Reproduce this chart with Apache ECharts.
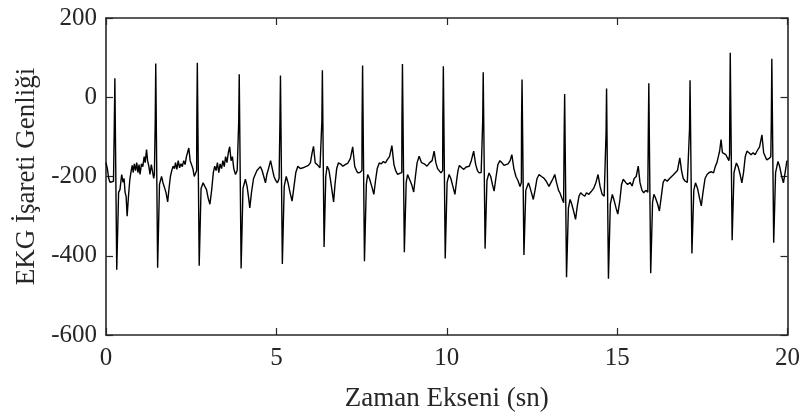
<!DOCTYPE html>
<html>
<head>
<meta charset="utf-8">
<script src="https://cdn.jsdelivr.net/npm/echarts@6/dist/echarts.min.js"></script>
<style>
html,body{margin:0;padding:0;background:#fff;}
#chart{width:803px;height:417px;}
</style>
</head>
<body>
<div id="chart"></div>
<script>
// ECG samples: time (s) and amplitude
const timeSec = [
0.00,0.04,0.08,0.12,0.17,0.22,0.245,0.26,0.315,0.37,0.41,0.46,0.50,0.53,0.56,0.59,0.62,0.66,0.70,0.74,0.77,0.80,0.83,0.87,0.90,0.94,0.97,1.00,1.04,1.08,1.12,1.15,1.19,1.22,1.26,1.29,1.33,1.37,1.40,1.42,
1.445,1.46,1.515,1.57,1.63,1.67,1.72,1.76,1.81,1.85,1.89,1.93,1.97,2.01,2.04,2.08,2.12,2.16,2.20,2.24,2.28,2.32,2.36,2.40,2.43,2.47,2.51,2.55,2.59,2.63,2.66,
2.665,2.68,2.735,2.79,2.85,2.90,2.95,3.00,3.05,3.10,3.15,3.19,3.23,3.27,3.31,3.35,3.39,3.43,3.47,3.51,3.55,3.59,3.63,3.67,3.71,3.75,3.80,3.85,3.89,
3.895,3.91,3.965,4.02,4.09,4.14,4.18,4.22,4.27,4.33,4.38,4.43,4.48,4.53,4.58,4.63,4.68,4.72,4.77,4.83,4.88,4.93,4.98,5.03,5.08,
5.105,5.12,5.175,5.23,5.29,5.34,5.40,5.46,5.51,5.57,5.63,5.70,5.78,5.86,5.94,6.00,6.05,6.09,6.14,6.20,6.28,6.33,
6.335,6.35,6.40,6.45,6.49,6.54,6.59,6.64,6.68,6.72,6.77,6.82,6.88,6.95,7.02,7.10,7.17,7.24,7.30,7.35,7.39,7.45,7.51,
7.515,7.53,7.585,7.64,7.68,7.73,7.80,7.86,7.91,7.96,8.02,8.08,8.14,8.20,8.25,8.32,8.39,8.45,8.50,8.56,8.62,8.68,
8.685,8.70,8.755,8.81,8.85,8.90,8.97,9.03,9.08,9.13,9.19,9.26,9.34,9.42,9.50,9.57,9.63,9.68,9.73,9.78,9.83,9.88,
9.885,9.90,9.955,10.01,10.07,10.12,10.18,10.24,10.29,10.33,10.37,10.44,10.50,10.57,10.62,10.66,10.72,10.79,10.85,10.90,10.95,11.01,11.05,
11.055,11.07,11.125,11.18,11.24,11.29,11.34,11.39,11.44,11.50,11.56,11.62,11.68,11.73,11.80,11.86,11.91,11.97,12.03,12.09,12.15,12.19,
12.195,12.21,12.265,12.32,12.40,12.45,12.50,12.54,12.59,12.65,12.71,12.78,12.85,12.92,13.00,13.06,13.12,13.17,13.22,13.28,13.32,13.38,13.43,
13.445,13.46,13.515,13.57,13.62,13.67,13.73,13.78,13.83,13.88,13.93,13.99,14.05,14.10,14.17,14.24,14.31,14.38,14.44,14.50,14.56,14.62,14.67,
14.675,14.69,14.745,14.80,14.86,14.91,14.97,15.02,15.08,15.13,15.18,15.25,15.31,15.38,15.44,15.50,15.56,15.62,15.67,15.73,15.78,15.84,15.90,
15.915,15.93,15.985,16.04,16.08,16.13,16.19,16.24,16.29,16.35,16.40,16.47,16.54,16.60,16.66,16.71,16.77,16.84,16.89,16.94,17.00,17.06,17.11,
17.125,17.14,17.195,17.25,17.30,17.36,17.42,17.47,17.52,17.58,17.64,17.70,17.77,17.83,17.88,17.93,17.97,18.01,18.05,18.09,18.14,18.19,18.24,18.28,18.30,
18.305,18.32,18.375,18.43,18.50,18.55,18.61,18.66,18.71,18.76,18.81,18.87,18.93,18.99,19.05,19.11,19.18,19.25,19.30,19.35,19.39,19.45,19.51,
19.525,19.54,19.595,19.65,19.72,19.77,19.83,19.88,19.93,19.98,20.00
];
const amplitude = [
-165,-180,-205,-215,-212,-212,-60,48,-435,-240,-233,-195,-215,-205,-240,-250,-300,-250,-207,-185,-172,-190,-168,-185,-165,-190,-170,-195,-168,-175,-150,-165,-132,-160,-175,-195,-170,-172,-205,-195,
-60,85,-430,-220,-200,-215,-216,-240,-264,-230,-200,-185,-174,-180,-165,-182,-160,-178,-168,-175,-160,-170,-150,-155,-128,-160,-170,-180,-200,-195,-185,
-60,87,-425,-230,-216,-225,-233,-255,-270,-235,-190,-174,-185,-165,-190,-168,-180,-160,-175,-150,-165,-140,-125,-160,-150,-180,-195,-185,-190,
-60,58,-432,-230,-207,-225,-250,-279,-240,-205,-195,-185,-190,-175,-185,-200,-216,-195,-180,-160,-180,-200,-210,-216,-205,
-60,55,-421,-225,-200,-215,-240,-262,-230,-190,-174,-180,-178,-175,-172,-165,-140,-124,-166,-170,-178,-180,
-60,68,-378,-200,-174,-183,-210,-240,-264,-220,-180,-166,-168,-174,-170,-166,-155,-125,-175,-185,-191,-190,-185,
-60,80,-414,-220,-195,-205,-225,-245,-210,-180,-166,-168,-162,-166,-158,-150,-122,-170,-185,-195,-192,-190,
-60,84,-391,-215,-195,-200,-220,-239,-200,-165,-149,-165,-168,-174,-165,-160,-136,-165,-180,-182,-191,-185,
-60,78,-407,-215,-195,-205,-225,-245,-210,-185,-172,-178,-182,-176,-172,-174,-160,-136,-170,-185,-191,-190,-195,
-60,63,-382,-210,-191,-200,-220,-237,-205,-170,-160,-165,-172,-174,-168,-160,-145,-180,-200,-210,-225,-215,
-60,45,-398,-235,-216,-230,-245,-258,-235,-205,-195,-200,-204,-212,-225,-215,-205,-195,-215,-235,-241,-255,-266,
-100,8,-454,-280,-258,-270,-290,-308,-275,-250,-241,-246,-250,-241,-245,-238,-230,-215,-195,-225,-245,-250,-255,
-90,22,-458,-270,-245,-260,-280,-295,-260,-220,-207,-215,-220,-215,-224,-205,-200,-174,-215,-235,-241,-235,-240,
-90,35,-444,-265,-245,-255,-270,-287,-255,-215,-207,-212,-205,-200,-195,-199,-185,-153,-185,-205,-212,-215,-210,
-80,43,-394,-235,-216,-230,-255,-274,-240,-205,-195,-190,-188,-191,-175,-165,-150,-135,-107,-140,-138,-145,-150,-160,-145,
-60,112,-361,-190,-166,-175,-195,-216,-190,-150,-136,-140,-145,-140,-145,-135,-125,-95,-140,-150,-158,-155,-150,
-60,97,-367,-190,-162,-175,-200,-216,-190,-162,-160
];
const xTicks = [0, 5, 10, 15, 20];
const yTicks = [-600, -400, -200, 0, 200];
const xTitle = 'Zaman Ekseni (sn)';
const yTitle = 'EKG İşareti Genliği';

const points = timeSec.map((t, i) => [t, amplitude[i]]);
const axisColor = '#262626';
const font = 'Liberation Serif';

const chart = echarts.init(document.getElementById('chart'), null, {renderer: 'canvas'});
const baseX = {
  type: 'value', min: xTicks[0], max: xTicks[xTicks.length - 1], interval: 5,
  axisLine: {show: true, onZero: false, lineStyle: {color: axisColor, width: 1.6}},
  axisTick: {show: true, inside: true, length: 7, lineStyle: {color: axisColor, width: 1.2}},
  splitLine: {show: false}
};
const baseY = {
  type: 'value', min: yTicks[0], max: yTicks[yTicks.length - 1], interval: 200,
  axisLine: {show: true, onZero: false, lineStyle: {color: axisColor, width: 1.6}},
  axisTick: {show: true, inside: true, length: 7, lineStyle: {color: axisColor, width: 1.2}},
  splitLine: {show: false}
};
chart.setOption({
  animation: false,
  backgroundColor: '#fff',
  grid: {left: 106, right: 14, top: 18, bottom: 81, containLabel: false},
  xAxis: [
    Object.assign({}, baseX, {
      position: 'bottom',
      name: xTitle, nameLocation: 'middle', nameGap: 50,
      nameTextStyle: {fontFamily: font, fontSize: 27, color: axisColor},
      axisLabel: {show: true, margin: 11, fontFamily: font, fontSize: 25, color: axisColor}
    }),
    Object.assign({}, baseX, {position: 'top', axisLabel: {show: false}})
  ],
  yAxis: [
    Object.assign({}, baseY, {
      position: 'left',
      name: yTitle, nameLocation: 'middle', nameGap: 63, nameRotate: 90,
      nameTextStyle: {fontFamily: font, fontSize: 27, color: axisColor},
      axisLabel: {show: true, margin: 9, fontFamily: font, fontSize: 25, color: axisColor}
    }),
    Object.assign({}, baseY, {position: 'right', axisLabel: {show: false}})
  ],
  series: [{
    type: 'line', data: points, xAxisIndex: 0, yAxisIndex: 0,
    showSymbol: false, symbol: 'none', smooth: false,
    lineStyle: {color: '#000', width: 1.4}
  }]
});
</script>
</body>
</html>
